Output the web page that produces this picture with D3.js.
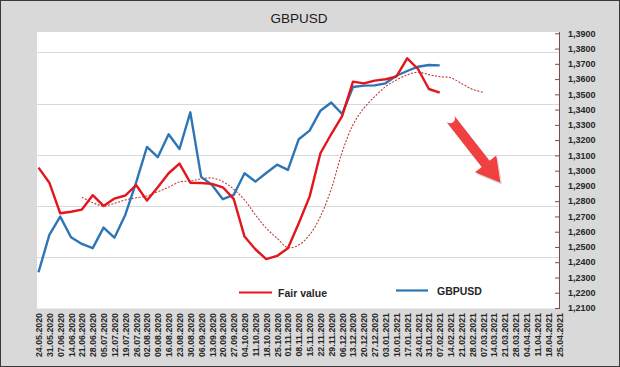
<!DOCTYPE html>
<html><head><meta charset="utf-8">
<script src="https://cdn.jsdelivr.net/npm/d3@7"></script>
<style>html,body{margin:0;padding:0;background:#d9d9d9}svg{display:block}</style>
</head><body>
<svg id="c" width="620" height="367"></svg>
<script>
const dates = ["24.05.2020","31.05.2020","07.06.2020","14.06.2020","21.06.2020","28.06.2020","05.07.2020","12.07.2020","19.07.2020","26.07.2020","02.08.2020","09.08.2020","16.08.2020","23.08.2020","30.08.2020","06.09.2020","13.09.2020","20.09.2020","27.09.2020","04.10.2020","11.10.2020","18.10.2020","25.10.2020","01.11.2020","08.11.2020","15.11.2020","22.11.2020","29.11.2020","06.12.2020","13.12.2020","20.12.2020","27.12.2020","03.01.2021","10.01.2021","17.01.2021","24.01.2021","31.01.2021","07.02.2021","14.02.2021","21.02.2021","28.02.2021","07.03.2021","14.03.2021","21.03.2021","28.03.2021","04.04.2021","11.04.2021","18.04.2021","25.04.2021"];
const gbpusd = [1.2334,1.2579,1.2699,1.2564,1.2520,1.2492,1.2627,1.2561,1.2710,1.2921,1.3155,1.3088,1.3238,1.3142,1.3382,1.2959,1.2906,1.2813,1.2841,1.2983,1.2928,1.2985,1.3039,1.3005,1.3206,1.3262,1.3393,1.3446,1.3371,1.3548,1.3557,1.3559,1.3572,1.3622,1.3653,1.3681,1.3692,1.3690];
const fairValue = [1.3020,1.2921,1.2721,1.2731,1.2745,1.2839,1.2769,1.2817,1.2837,1.2906,1.2804,1.2891,1.2983,1.3046,1.2921,1.2919,1.2913,1.2891,1.2815,1.2568,1.2485,1.2420,1.2441,1.2492,1.2655,1.2830,1.3114,1.3240,1.3358,1.3583,1.3572,1.3590,1.3599,1.3616,1.3736,1.3666,1.3535,1.3511];
const fairTrend = [null,null,null,null,1.2826,1.2790,1.2769,1.2785,1.2808,1.2822,1.2834,1.2862,1.2891,1.2926,1.2932,1.2946,1.2952,1.2928,1.2878,1.2808,1.2710,1.2623,1.2557,1.2496,1.2513,1.2579,1.2700,1.2880,1.3120,1.3300,1.3409,1.3485,1.3550,1.3594,1.3627,1.3645,1.3629,1.3616,1.3609,1.3572,1.3533,1.3514];
const yTicks = [1.21,1.22,1.23,1.24,1.25,1.26,1.27,1.28,1.29,1.30,1.31,1.32,1.33,1.34,1.35,1.36,1.37,1.38,1.39];
const gridTicks = [1,2,3,4,5];
const arrowFrom = {i:37.95, v:1.3343};
const arrowTo = {i:42.6, v:1.2921};

const svg = d3.select("#c");
const W=620,H=367;
const plot={l:37,r:560,t:32,b:308.5};

svg.append("rect").attr("x",0.5).attr("y",0.5).attr("width",W-1).attr("height",H-1)
  .attr("fill","#d9d9d9").attr("stroke","#3a3a3a");
svg.append("rect").attr("x",plot.l).attr("y",plot.t).attr("width",plot.r-plot.l).attr("height",plot.b-plot.t).attr("fill","#fff");

const x = d3.scalePoint().domain(d3.range(dates.length)).range([38.5,559]);
const y = d3.scaleLinear().domain([1.21,1.39]).range([308,33.3]);
const g = d3.scaleLinear().domain([0,(308.5-32)/51.25]).range([308.5,32]);

svg.append("g").selectAll("line").data(gridTicks).join("line")
  .attr("x1",plot.l).attr("x2",plot.r).attr("y1",d=>Math.round(g(d))+0.5).attr("y2",d=>Math.round(g(d))+0.5)
  .attr("stroke","#d9d9d9").attr("stroke-width",1);

const ax = svg.append("g").attr("transform",`translate(${plot.r},0)`)
  .call(d3.axisLeft(y).tickValues(yTicks).tickSize(5).tickFormat(()=>""));
ax.select(".domain").attr("stroke","#7b4a4a").attr("d",`M-0.5,${plot.t}V${plot.b}`);
ax.selectAll(".tick line").attr("stroke","#7b4a4a");
svg.append("g").selectAll("text").data(yTicks).join("text")
  .attr("x",568).attr("y",d=>y(d)+3.2)
  .attr("font-family","Liberation Sans, Arial, sans-serif").attr("font-size",9).attr("font-weight","bold").attr("fill","#262626")
  .text(d=>d3.format(".4f")(d).replace(".",","));

svg.append("g").selectAll("text").data(dates).join("text")
  .attr("transform",(d,i)=>`translate(${x(i)+3.5},313) rotate(-90)`)
  .attr("text-anchor","end")
  .attr("font-family","Liberation Sans, Arial, sans-serif").attr("font-size",8.8).attr("font-weight","bold").attr("fill","#262626")
  .text(d=>d);

const line = d3.line().defined(d=>d!=null).x((d,i)=>x(i)).y(d=>y(d));
svg.append("path").attr("fill","none").attr("stroke","#c23a36").attr("stroke-width",1.1)
  .attr("stroke-dasharray","2,1.5").attr("d",line.curve(d3.curveCatmullRom)(fairTrend));
const line2 = d3.line().x((d,i)=>x(i)).y(d=>y(d));
svg.append("path").attr("fill","none").attr("stroke","#2e75b6").attr("stroke-width",2.4)
  .attr("stroke-linejoin","round").attr("d",line2(gbpusd));
svg.append("path").attr("fill","none").attr("stroke","#e2161c").attr("stroke-width",2.4)
  .attr("stroke-linejoin","round").attr("d",line2(fairValue));

(function(){
  const x0=x(37)+(x(38)-x(37))*(arrowFrom.i-37), y0=y(arrowFrom.v);
  const x1=x(42)+(x(43)-x(42))*(arrowTo.i-42), y1=y(arrowTo.v);
  const dx=x1-x0, dy=y1-y0, L=Math.hypot(dx,dy), ux=dx/L, uy=dy/L, px=-uy, py=ux;
  const hl=24, hw=13.5, sw=5;
  const bx=x1-ux*hl, by=y1-uy*hl;
  const pts=[[x0+px*sw,y0+py*sw],[bx+px*sw,by+py*sw],[bx+px*hw,by+py*hw],[x1,y1],[bx-px*hw,by-py*hw],[bx-px*sw,by-py*sw],[x0-px*sw,y0-py*sw]];
  const d=`M${pts[0]}L${pts[1]}L${pts[2]}L${pts[3]}L${pts[4]}L${pts[5]}L${pts[6]}A${sw},${sw} 0 0 1 ${pts[0]}Z`;
  svg.append("path").attr("d",d).attr("fill","#bbb").attr("opacity",0.5).attr("transform","translate(1.5,2)");
  svg.append("path").attr("d",d).attr("fill","#f0403f");
})();

const lg = svg.append("g").attr("font-family","Liberation Sans, Arial, sans-serif").attr("font-size",10.5).attr("font-weight","bold").attr("fill","#262626");
lg.append("line").attr("x1",239).attr("x2",272).attr("y1",292.5).attr("y2",292.5).attr("stroke","#e2161c").attr("stroke-width",2.2);
lg.append("text").attr("x",278).attr("y",296.5).text("Fair value");
lg.append("line").attr("x1",396).attr("x2",428).attr("y1",290.5).attr("y2",290.5).attr("stroke","#2e75b6").attr("stroke-width",2.2);
lg.append("text").attr("x",437).attr("y",294.5).text("GBPUSD");

svg.append("text").attr("x",299).attr("y",22.5).attr("text-anchor","middle")
  .attr("font-family","Liberation Sans, Arial, sans-serif").attr("font-size",13.5).attr("fill","#1a1a1a").text("GBPUSD");
</script>
</body></html>
